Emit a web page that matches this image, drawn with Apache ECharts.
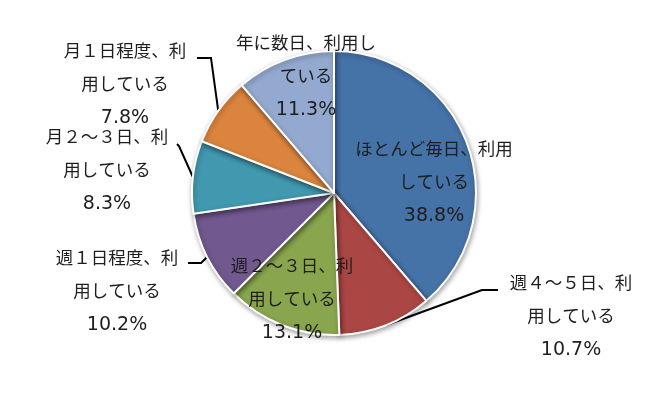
<!DOCTYPE html>
<html>
<head>
<meta charset="utf-8">
<script src="https://cdn.jsdelivr.net/npm/echarts@6/dist/echarts.min.js"></script>
<style>
html,body{margin:0;padding:0;background:#fff;}
#chart{width:650px;height:397px;}
</style>
</head>
<body>
<div id="chart"></div>
<script>
// ---- data ----
const categories = [
  'ほとんど毎日、利用\nしている',
  '週４～５日、利\n用している',
  '週２～３日、利\n用している',
  '週１日程度、利\n用している',
  '月２～３日、利\n用している',
  '月１日程度、利\n用している',
  '年に数日、利用し\nている'
];
const values = [38.8, 10.7, 13.1, 10.2, 8.3, 7.8, 11.3];
const percentLabels = ['38.8%', '10.7%', '13.1%', '10.2%', '8.3%', '7.8%', '11.3%'];

// ---- style / layout ----
const colors = ['#4572A7', '#AA4643', '#89A54E', '#71588F', '#4198AF', '#DB843D', '#93A9CF'];
const labelPlace = [
  { x: 434, y: 183, line: null },
  { x: 571, y: 317, line: [[482, 290], [498, 290]] },
  { x: 292, y: 300, line: null },
  { x: 117, y: 292, line: [[201, 263], [188, 263]] },
  { x: 107, y: 171, line: [[179, 146], [177, 144]] },
  { x: 125, y: 85,  line: [[211, 58], [197, 58]] },
  { x: 306, y: 77,  line: null }
];

const chart = echarts.init(document.getElementById('chart'), null, { renderer: 'canvas' });

const seriesData = categories.map((name, i) => ({
  name: name,
  value: values[i],
  itemStyle: { color: colors[i] },
  labelLine: { show: !!labelPlace[i].line }
}));

const fam = "'DejaVu Sans', 'Noto Sans CJK JP', sans-serif";

chart.setOption({
  animation: false,
  backgroundColor: '#ffffff',
  series: [{
    type: 'pie',
    center: [334, 193],
    radius: 142,
    startAngle: 90,
    clockwise: true,
    avoidLabelOverlap: false,
    data: seriesData,
    itemStyle: {
      borderColor: '#ffffff',
      borderWidth: 2,
      shadowBlur: 5,
      shadowColor: 'rgba(0,0,0,0.35)',
      shadowOffsetX: 1,
      shadowOffsetY: 2
    },
    label: {
      show: true,
      position: 'outside',
      formatter: function (p) {
        return p.name.split('\n').map(s => '{a|' + s + '}').join('\n') +
          '\n{b|' + percentLabels[p.dataIndex] + '}';
      },
      fontFamily: fam,
      fontSize: 17.5,
      lineHeight: 33,
      color: '#1e1e1e',
      align: 'center',
      rich: {
        a: { fontFamily: fam, fontSize: 17.5, lineHeight: 33, color: '#1e1e1e' },
        b: { fontFamily: fam, fontSize: 19, lineHeight: 33, color: '#1e1e1e' }
      }
    },
    labelLine: {
      lineStyle: { color: '#000000', width: 2 },
      smooth: false
    },
    labelLayout: function (params) {
      const lp = labelPlace[params.dataIndex];
      const out = { x: lp.x, y: lp.y, align: 'center', verticalAlign: 'middle' };
      if (lp.line && params.labelLinePoints) {
        out.labelLinePoints = [params.labelLinePoints[0]].concat(lp.line);
      }
      return out;
    }
  }]
});
</script>
</body>
</html>
